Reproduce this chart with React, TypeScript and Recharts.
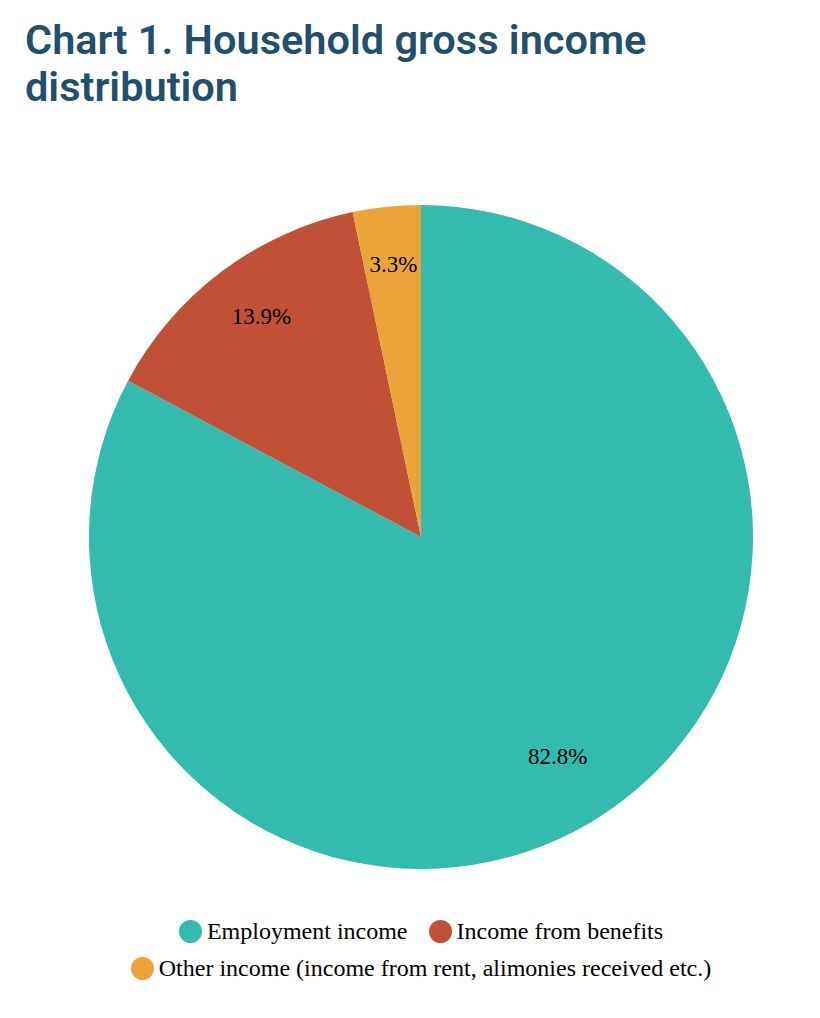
import { Legend, Pie, PieChart, Cell } from "recharts";

const categories = [
  "Employment income",
  "Income from benefits",
  "Other income (income from rent, alimonies received etc.)",
];
const shares = [82.8, 13.9, 3.3];
const colors = ["#33bbad", "#c05036", "#eca43a"];

const data = categories.map((name, i) => ({ name, value: shares[i] }));

const RAD = Math.PI / 180;
const serif = "'Liberation Serif', 'Times New Roman', serif";

const renderLabel = (props: any) => {
  const { cx, cy, midAngle, outerRadius, value } = props;
  const r = outerRadius * 0.8;
  const x = cx + r * Math.cos(-midAngle * RAD);
  const y = cy + r * Math.sin(-midAngle * RAD) - 8;
  return (
    <text
      x={x}
      y={y}
      fill="#000"
      textAnchor="middle"
      dominantBaseline="central"
      style={{ fontFamily: serif, fontSize: 23 }}
    >
      {value.toFixed(1)}%
    </text>
  );
};

const renderLegend = (props: any) => {
  const { payload } = props;
  return (
    <div
      style={{
        display: "flex",
        flexWrap: "wrap",
        justifyContent: "center",
        width: 640,
        margin: "0 auto",
        rowGap: 10,
        columnGap: 21,
        fontFamily: serif,
        fontSize: 24,
        color: "#000",
      }}
    >
      {payload.map((entry: any) => (
        <div key={entry.value} style={{ display: "flex", alignItems: "center", height: 27 }}>
          <span
            style={{
              display: "inline-block",
              width: 23,
              height: 23,
              borderRadius: "50%",
              background: entry.color,
              marginRight: 5,
            }}
          />
          <span>{entry.value}</span>
        </div>
      ))}
    </div>
  );
};

export default function App() {
  return (
    <div style={{ position: "absolute", left: 0, top: 0, width: 820, height: 1018, background: "#fff" }}>
      <div
        style={{
          position: "absolute",
          left: 25,
          top: 16,
          width: 760,
          fontFamily: "Roboto, sans-serif",
          fontWeight: 600,
          fontSize: 41.5,
          lineHeight: "47px",
          color: "#22506c",
        }}
      >
        Chart 1. Household gross income distribution
      </div>
      <div style={{ position: "absolute", left: 0, top: 0 }}>
        <PieChart width={820} height={1018} margin={{ top: 0, right: 0, bottom: 0, left: 0 }}>
          <Pie
            data={data}
            dataKey="value"
            nameKey="name"
            cx={421}
            cy={537}
            outerRadius={332}
            startAngle={90}
            endAngle={-270}
            stroke="none"
            label={renderLabel}
            labelLine={false}
            isAnimationActive={false}
          >
            {data.map((d, i) => (
              <Cell key={d.name} fill={colors[i]} />
            ))}
          </Pie>
          <Legend
            content={renderLegend}
            wrapperStyle={{ position: "absolute", left: 101, top: 918, width: 640 }}
          />
        </PieChart>
      </div>
    </div>
  );
}
